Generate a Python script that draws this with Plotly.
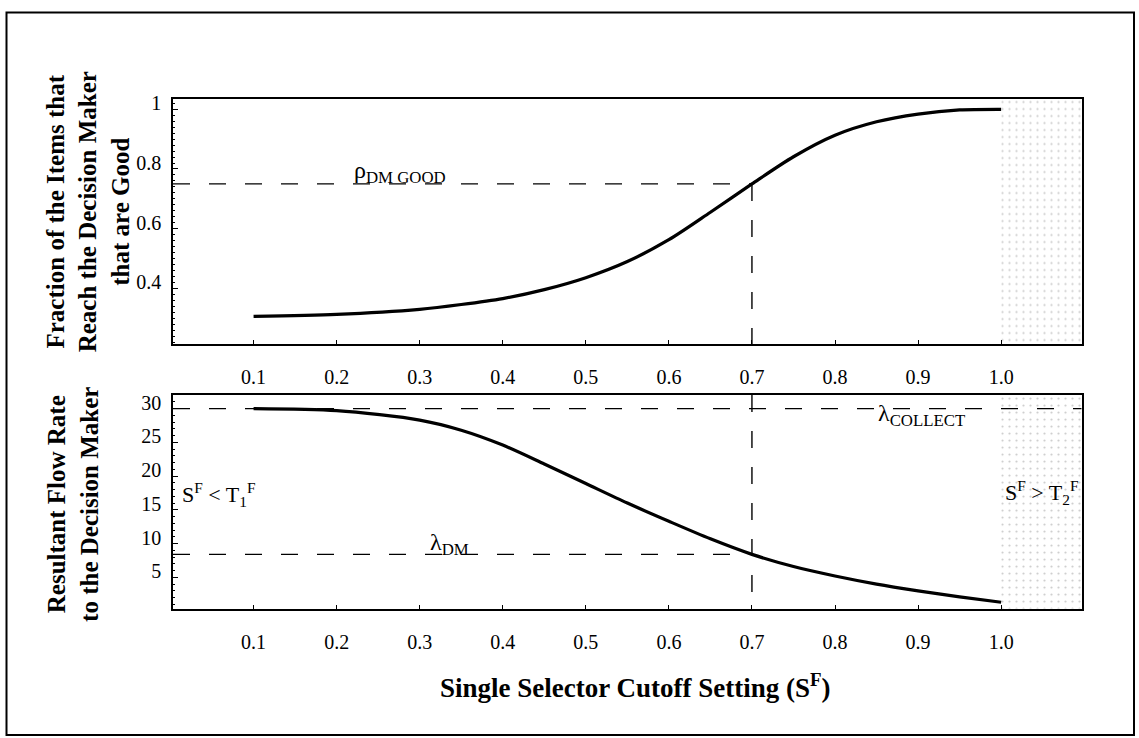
import plotly.graph_objects as go

# ---- data ----
cutoff_top = [0.1, 0.2, 0.3, 0.35, 0.4, 0.45, 0.5, 0.55, 0.6, 0.65, 0.7, 0.75, 0.8, 0.85, 0.9, 0.95, 1.0]
frac_good = [0.306, 0.313, 0.330, 0.346, 0.366, 0.396, 0.436, 0.490, 0.563, 0.655, 0.750, 0.841, 0.913, 0.958, 0.984, 0.998, 1.0]

cutoff_bot = [0.1, 0.2, 0.3, 0.35, 0.4, 0.45, 0.5, 0.55, 0.6, 0.65, 0.7, 0.75, 0.8, 0.85, 0.9, 0.95, 1.0]
flow_rate = [30.0, 29.7, 28.3, 26.8, 24.6, 21.8, 18.9, 16.0, 13.3, 10.7, 8.4, 6.6, 5.2, 4.0, 3.0, 2.1, 1.3]

x_tick_vals = [0.1, 0.2, 0.3, 0.4, 0.5, 0.6, 0.7, 0.8, 0.9, 1.0]
x_tick_text = ["0.1", "0.2", "0.3", "0.4", "0.5", "0.6", "0.7", "0.8", "0.9", "1.0"]
y1_tick_vals = [0.4, 0.6, 0.8, 1.0]
y1_tick_text = ["0.4", "0.6", "0.8", "1"]
y2_tick_vals = [5, 10, 15, 20, 25, 30]
y2_tick_text = ["5", "10", "15", "20", "25", "30"]

cutoff_setting = 0.7
rho_dm_good = 0.75
lambda_collect = 30
lambda_dm = 8.4
feasible_max = 1.0

x_range = [0.003, 1.097]
y1_range = [0.213, 1.036]
y2_range = [0.34, 32.0]

SERIF = "Liberation Serif"
BLACK = "black"

fig = go.Figure()

# stippled infeasible regions
for xa, ya, yr in (("x", "y", y1_range), ("x2", "y2", y2_range)):
    fig.add_trace(go.Scatter(
        x=[feasible_max, x_range[1], x_range[1], feasible_max, feasible_max],
        y=[yr[0], yr[0], yr[1], yr[1], yr[0]],
        xaxis=xa, yaxis=ya, mode="lines", line=dict(width=0),
        fill="toself", fillcolor="rgba(255,255,255,0)",
        fillpattern=dict(shape=".", fgcolor="#999999", bgcolor="white", size=7, solidity=0.08),
        hoverinfo="skip", showlegend=False))

dash_style = dict(color=BLACK, width=1.4, dash="17px,19px")

# top panel dashed guides
fig.add_trace(go.Scatter(x=[x_range[0], cutoff_setting], y=[rho_dm_good, rho_dm_good],
                         mode="lines", line=dash_style, xaxis="x", yaxis="y", showlegend=False))
fig.add_trace(go.Scatter(x=[cutoff_setting, cutoff_setting], y=[rho_dm_good, y1_range[0]],
                         mode="lines", line=dash_style, xaxis="x", yaxis="y", showlegend=False))
# top curve
fig.add_trace(go.Scatter(x=cutoff_top, y=frac_good, mode="lines",
                         line=dict(color=BLACK, width=3.2, shape="spline", smoothing=0.8),
                         xaxis="x", yaxis="y", showlegend=False))

# bottom panel dashed guides
fig.add_trace(go.Scatter(x=[x_range[0], x_range[1]], y=[lambda_collect, lambda_collect],
                         mode="lines", line=dash_style, xaxis="x2", yaxis="y2", showlegend=False))
fig.add_trace(go.Scatter(x=[x_range[0], cutoff_setting], y=[lambda_dm, lambda_dm],
                         mode="lines", line=dash_style, xaxis="x2", yaxis="y2", showlegend=False))
fig.add_trace(go.Scatter(x=[cutoff_setting, cutoff_setting], y=[y2_range[1], y2_range[0]],
                         mode="lines", line=dash_style, xaxis="x2", yaxis="y2", showlegend=False))
# bottom curve
fig.add_trace(go.Scatter(x=cutoff_bot, y=flow_rate, mode="lines",
                         line=dict(color=BLACK, width=3.2, shape="spline", smoothing=0.8),
                         xaxis="x2", yaxis="y2", showlegend=False))

W, H = 1139, 738
x_dom = [173 / W, 1081.7 / W]

common_x = dict(range=x_range, tickvals=x_tick_vals, ticktext=x_tick_text, ticks="inside", ticklen=4,
                tickcolor=BLACK, showline=True, linecolor=BLACK, linewidth=1.5, mirror=True,
                showgrid=False, zeroline=False, ticklabelstandoff=14,
                tickfont=dict(family=SERIF, size=20, color=BLACK))
common_y = dict(ticks="inside", ticklen=5, tickcolor=BLACK, showline=True, linecolor=BLACK, linewidth=1.5,
                mirror=True, showgrid=False, zeroline=False, ticklabelstandoff=6, ticklabelshift=-6,
                tickfont=dict(family=SERIF, size=20, color=BLACK))

fig.update_layout(
    width=W, height=H,
    margin=dict(l=0, r=0, t=0, b=0),
    paper_bgcolor="white", plot_bgcolor="white",
    showlegend=False,
    xaxis=dict(domain=x_dom, anchor="y", **common_x),
    yaxis=dict(domain=[1 - 341 / H, 1 - 93.3 / H], anchor="x", range=y1_range,
               tickvals=y1_tick_vals, ticktext=y1_tick_text,
               minor=dict(ticks="inside", ticklen=2.5, dtick=0.02, tickcolor=BLACK), **common_y),
    xaxis2=dict(domain=x_dom, anchor="y2", **common_x),
    yaxis2=dict(domain=[1 - 607.7 / H, 1 - 392.3 / H], anchor="x2", range=y2_range,
                tickvals=y2_tick_vals, ticktext=y2_tick_text,
                minor=dict(ticks="inside", ticklen=2.5, dtick=1, tickcolor=BLACK), **common_y),
)

ann_font = dict(family=SERIF, size=24, color=BLACK)
title_font = dict(family=SERIF, size=25, color=BLACK)

annotations = [
    dict(text="<b>Fraction of the Items that<br>Reach the Decision Maker<br>that are Good</b>",
         xref="paper", yref="paper", x=88 / W, y=1 - 208 / H, textangle=-90, showarrow=False,
         font=title_font, xanchor="center", yanchor="middle"),
    dict(text="<b>Resultant Flow Rate<br>to the Decision Maker</b>",
         xref="paper", yref="paper", x=73 / W, y=1 - 503 / H, textangle=-90, showarrow=False,
         font=title_font, xanchor="center", yanchor="middle"),
    dict(text="<b>Single Selector Cutoff Setting (S<sup>F</sup>)</b>",
         xref="paper", yref="paper", x=635 / W, y=1 - 686 / H, showarrow=False,
         font=dict(family=SERIF, size=27, color=BLACK), xanchor="center", yanchor="middle"),
    dict(text="ρ<sub>DM GOOD</sub>", xref="x", yref="y", x=0.276, y=0.79, showarrow=False,
         font=ann_font, xanchor="center", yanchor="middle"),
    dict(text="λ<sub>COLLECT</sub>", xref="x2", yref="y2", x=0.904, y=29.0, showarrow=False,
         font=ann_font, xanchor="center", yanchor="middle"),
    dict(text="λ<sub>DM</sub>", xref="x2", yref="y2", x=0.336, y=10.0, showarrow=False,
         font=ann_font, xanchor="center", yanchor="middle"),
    dict(text="S<sup>F</sup> &lt; T<sub>1</sub><sup>F</sup>", xref="x2", yref="y2", x=0.012, y=17.3,
         showarrow=False, font=dict(family=SERIF, size=22, color=BLACK), xanchor="left", yanchor="middle"),
    dict(text="S<sup>F</sup> &gt; T<sub>2</sub><sup>F</sup>", xref="x2", yref="y2", x=1.096, y=17.6,
         showarrow=False, font=dict(family=SERIF, size=22, color=BLACK), xanchor="right", yanchor="middle"),
]
fig.update_layout(annotations=annotations)

# outer frame
fig.add_shape(type="rect", xref="paper", yref="paper", x0=6.5 / W, x1=1134 / W, y0=1 - 735 / H, y1=1 - 6.5 / H,
              line=dict(color=BLACK, width=2), fillcolor="rgba(0,0,0,0)", layer="above")

fig.write_html("out.html", config={"displayModeBar": False},
               post_script="document.body.style.margin='0px';")
